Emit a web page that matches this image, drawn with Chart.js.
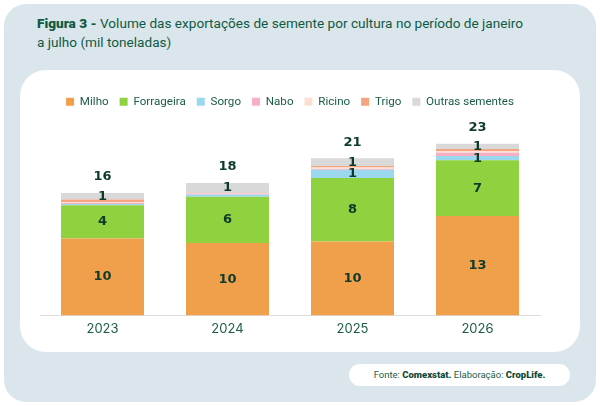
<!DOCTYPE html>
<html>
<head>
<meta charset="utf-8">
<script src="https://cdn.jsdelivr.net/npm/chart.js@4"></script>
<style>
  html, body { margin:0; padding:0; background:#ffffff; }
  body { width:600px; height:406px; position:relative; overflow:hidden; font-family:"Roboto", sans-serif; }
  #panel { position:absolute; left:4px; top:4px; width:592px; height:398px; background:#dbe6ec; border-radius:22px; }
  #title { position:absolute; left:37px; top:14px; width:545px; font-size:13.6px; line-height:19px; color:#0f5a43; }
  #title b { font-weight:900; }
  #card { position:absolute; left:20px; top:70px; width:560px; height:282px; background:#ffffff; border-radius:26px; }
  #wrap { position:absolute; left:20px; top:70px; width:560px; height:282px; }
  #foot { position:absolute; left:349px; top:364px; width:221px; height:22px; background:#ffffff; border-radius:11px;
          font-size:9.5px; line-height:22px; text-align:center; color:#1b5e4a; }
  #foot b { font-weight:900; color:#0f4a36; }
</style>
</head>
<body>
<div id="panel"></div>
<div id="title"><b>Figura 3 -</b> Volume das exportações de semente por cultura no período de janeiro<br>a julho (mil toneladas)</div>
<div id="card"></div>
<div id="wrap"><canvas id="c" width="560" height="282"></canvas></div>
<div id="foot">Fonte: <b>Comexstat.</b> Elaboração: <b>CropLife.</b></div>
<script>
const years = ["2023", "2024", "2025", "2026"];
const milho = [10.2, 9.6, 9.8, 13.15];
const forrageira = [4.4, 6.1, 8.4, 7.4];
const sorgo = [0.15, 0.3, 1.1, 0.55];
const nabo = [0.15, 0.15, 0.1, 0.45];
const ricino = [0.1, 0.05, 0.2, 0.2];
const trigo = [0.35, 0.05, 0.2, 0.3];
const outras = [0.85, 1.3, 1.0, 0.7];
const seriesNames = ["Milho", "Forrageira", "Sorgo", "Nabo", "Ricino", "Trigo", "Outras sementes"];
const seriesColors = ["#f0a04b", "#8fd13f", "#9bd8ee", "#f7afc6", "#fbdfd4", "#f4a47e", "#d9d9d9"];
const seriesData = [milho, forrageira, sorgo, nabo, ricino, trigo, outras];

const labelPlugin = {
  id: 'labels',
  afterDatasetsDraw(chart) {
    const ctx = chart.ctx;
    ctx.save();
    ctx.textAlign = 'center';
    ctx.textBaseline = 'middle';
    ctx.fillStyle = '#0e3a2c';
    ctx.font = 'bold 13px "DejaVu Sans", sans-serif';
    chart.data.datasets.forEach((ds, di) => {
      const meta = chart.getDatasetMeta(di);
      meta.data.forEach((bar, i) => {
        const v = ds.data[i];
        if (Math.round(v) >= 1) {
          ctx.fillText(String(Math.round(v)), bar.x, (bar.y + bar.base) / 2);
        }
      });
    });
    const last = chart.getDatasetMeta(chart.data.datasets.length - 1);
    last.data.forEach((bar, i) => {
      let total = 0;
      chart.data.datasets.forEach(ds => total += ds.data[i]);
      ctx.fillText(String(Math.round(total)), bar.x, bar.y - 16);
    });
    ctx.restore();
  }
};

new Chart(document.getElementById('c'), {
  type: 'bar',
  data: {
    labels: years,
    datasets: seriesNames.map((n, k) => ({
      label: n,
      data: seriesData[k],
      backgroundColor: seriesColors[k],
      borderWidth: 0,
      categoryPercentage: 1,
      barPercentage: 0.664
    }))
  },
  options: {
    responsive: false,
    animation: false,
    devicePixelRatio: 1,
    layout: { padding: { left: 20, right: 40, top: 15, bottom: 9 } },
    plugins: {
      legend: {
        position: 'top',
        labels: {
          boxWidth: 8, boxHeight: 8, padding: 11,
          color: '#1a5c48',
          font: { family: 'Roboto', size: 11.6 }
        }
      },
      tooltip: { enabled: false },
      title: { display: false }
    },
    scales: {
      x: {
        stacked: true,
        grid: { display: false, drawTicks: false },
        border: { display: true, color: '#dddddd', width: 1 },
        ticks: { color: '#1a5c48', padding: 6, font: { family: 'Inter', size: 13 } }
      },
      y: {
        stacked: true,
        display: false,
        min: 0,
        max: 26.2
      }
    }
  },
  plugins: [labelPlugin]
});
</script>
</body>
</html>
